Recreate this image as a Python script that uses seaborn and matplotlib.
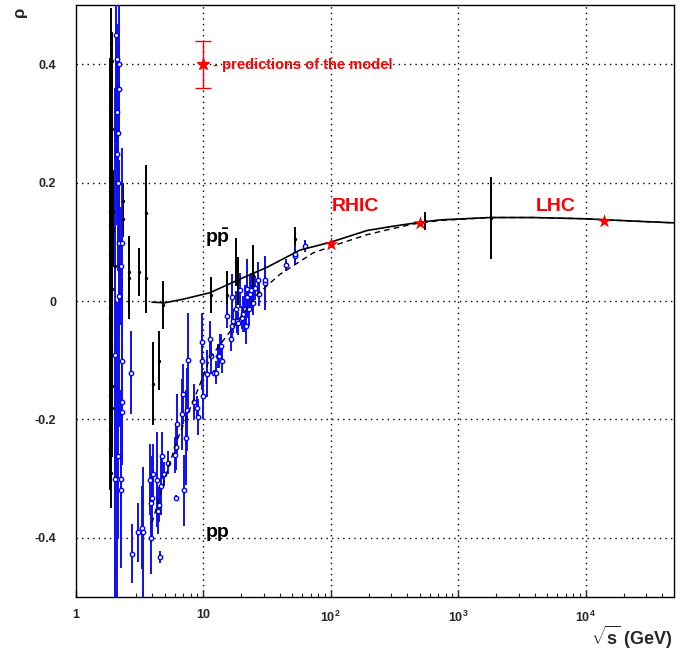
import numpy as np
import pandas as pd
import matplotlib
matplotlib.use("Agg")
import matplotlib.pyplot as plt
import seaborn as sns

# ---------------- data ----------------
# proton-antiproton measurements: sqrt(s) [GeV], rho, error
ppbar_sqrt_s = [1.90, 1.93, 1.88, 1.92, 1.90, 1.95, 1.88, 1.92, 1.97, 1.86,
                1.90, 1.95, 1.88, 1.92, 1.87, 1.91, 1.89, 1.93, 1.88, 1.90,
                1.86, 1.95, 1.97, 1.89, 1.91, 1.87, 1.89, 1.88, 1.90, 1.86,
                1.88, 1.89, 1.87, 1.90, 1.88,
                2.36, 2.36, 2.04, 2.64, 2.64,
                3.15, 3.57, 3.57, 4.07, 4.54, 4.88, 11.5, 15.3, 18.2, 18.9,
                24.5, 52.7, 546.0, 1800.0]
ppbar_rho = [0.435, 0.405, 0.330, 0.290, 0.255, 0.220, 0.185, 0.170, 0.150, 0.100,
             0.093, 0.060, 0.040, 0.020, -0.030, -0.055, -0.118, -0.143, -0.220, -0.290,
             -0.250, -0.180, 0.120, -0.080, 0.000, 0.130, 0.070, -0.010, -0.200, -0.160,
             0.080, -0.100, 0.150, 0.030, -0.250,
             0.169, 0.138, 0.059, 0.049, 0.039,
             0.049, 0.149, 0.039, -0.140, -0.101, -0.007, 0.010, 0.010, 0.066, 0.034,
             0.044, 0.105, 0.135, 0.140]
ppbar_err = [0.06, 0.05, 0.08, 0.10, 0.09, 0.08, 0.12, 0.10, 0.07, 0.10,
             0.12, 0.12, 0.15, 0.12, 0.14, 0.16, 0.14, 0.12, 0.10, 0.06,
             0.05, 0.08, 0.06, 0.15, 0.18, 0.08, 0.12, 0.15, 0.10, 0.12,
             0.10, 0.15, 0.05, 0.20, 0.05,
             0.03, 0.03, 0.03, 0.06, 0.07,
             0.04, 0.08, 0.06, 0.07, 0.05, 0.04, 0.03, 0.04, 0.04, 0.04,
             0.05, 0.02, 0.015, 0.069]

# proton-proton measurements: sqrt(s) [GeV], rho, error
pp_sqrt_s = [2.10, 2.19, 2.20, 2.10, 2.17, 2.12, 2.17, 2.20, 2.30, 2.28,
             2.20, 2.04, 2.06, 2.13, 2.33, 2.71, 2.33, 2.30, 2.17, 2.04,
             2.28, 2.28, 2.76, 3.11, 3.34, 3.38, 3.89, 3.89, 4.00, 3.84,
             4.07, 4.33, 4.41, 4.54, 4.60, 4.66, 4.74, 4.92, 5.35, 6.03,
             6.11, 6.14, 6.29, 6.81, 6.93, 7.13, 7.32, 7.45, 7.67, 8.50,
             8.93, 9.09, 9.77, 9.77, 10.05, 10.8, 11.35, 11.5, 12.2, 12.6,
             13.2, 13.4, 13.6, 13.8, 14.0, 15.3, 16.5, 16.8, 16.9, 17.3,
             18.2, 18.6, 18.9, 19.5, 20.1, 20.7, 21.3, 21.7, 22.3, 22.3,
             22.8, 23.4, 23.9, 24.5, 25.6, 27.2, 27.5, 30.6, 30.6, 44.8,
             52.7, 52.7, 63.1]
pp_rho = [0.408, 0.400, 0.358, 0.319, 0.283, 0.248, 0.200, 0.098, 0.098, 0.059,
          0.008, -0.091, 0.450, -0.301, -0.101, -0.121, -0.171, -0.187, -0.262, -0.301,
          -0.301, -0.320, -0.427, -0.391, -0.383, -0.391, -0.401, -0.341, -0.332, -0.302,
          -0.292, -0.302, -0.354, -0.344, -0.432, -0.312, -0.261, -0.292, -0.273, -0.260,
          -0.246, -0.332, -0.207, -0.191, -0.157, -0.320, -0.231, -0.184, -0.100, -0.170,
          -0.180, -0.196, -0.070, -0.101, -0.160, -0.123, -0.064, -0.093, -0.121, -0.121,
          -0.093, -0.093, -0.076, -0.076, -0.101, -0.025, -0.064, -0.042, 0.006, -0.034,
          -0.013, -0.034, -0.038, 0.018, -0.028, -0.022, -0.013, -0.042, 0.021, 0.006,
          -0.013, 0.012, 0.018, -0.003, 0.022, 0.036, 0.011, 0.030, 0.036, 0.061,
          0.076, 0.080, 0.093]
pp_err = [0.06, 0.12, 0.08, 0.10, 0.13, 0.12, 0.15, 0.14, 0.16, 0.10,
          0.22, 0.45, 0.20, 0.30, 0.14, 0.07, 0.10, 0.09, 0.14, 0.30,
          0.15, 0.12, 0.05, 0.05, 0.07, 0.11, 0.06, 0.05, 0.07, 0.06,
          0.05, 0.08, 0.04, 0.03, 0.01, 0.05, 0.04, 0.02, 0.02, 0.03,
          0.04, 0.005, 0.05, 0.06, 0.05, 0.06, 0.08, 0.07, 0.08, 0.03,
          0.02, 0.03, 0.05, 0.05, 0.04, 0.04, 0.03, 0.03, 0.005, 0.02,
          0.02, 0.02, 0.02, 0.02, 0.02, 0.02, 0.02, 0.02, 0.04, 0.02,
          0.03, 0.02, 0.02, 0.03, 0.02, 0.03, 0.04, 0.03, 0.05, 0.03,
          0.03, 0.03, 0.03, 0.02, 0.02, 0.03, 0.02, 0.045, 0.04, 0.01,
          0.015, 0.015, 0.01]

# model curves
curve_ppbar_sqrt_s = [3.98, 5.03, 6.97, 11.35, 19.5, 31.8, 57.6, 99.0, 193.0,
                      303.0, 504.0, 722.0, 1780.0, 3870.0, 9550.0, 23600.0, 49400.0]
curve_ppbar_rho = [-0.002, -0.003, 0.003, 0.014, 0.037, 0.057, 0.086, 0.099, 0.119,
                   0.126, 0.133, 0.137, 0.141, 0.141, 0.139, 0.135, 0.132]
curve_pp_sqrt_s = [3.98, 5.03, 6.24, 9.5, 11.35, 17.2, 26.6, 40.1, 72.7, 104.0,
                   193.0, 303.0, 445.0, 722.0, 1780.0, 3870.0, 9550.0, 23600.0, 49400.0]
curve_pp_rho = [-0.375, -0.300, -0.236, -0.140, -0.096, -0.045, 0.011, 0.045, 0.081,
                0.093, 0.112, 0.122, 0.130, 0.136, 0.141, 0.141, 0.139, 0.135, 0.132]

# model predictions (RHIC, LHC)
pred_sqrt_s = [100.0, 500.0, 14000.0]
pred_rho = [0.097, 0.131, 0.135]

# ---------------- style ----------------
sns.set_theme(style="white")
plt.rcParams["font.family"] = ["Liberation Sans", "DejaVu Sans"]
plt.rcParams["font.weight"] = "bold"
plt.rcParams["mathtext.fontset"] = "custom"
plt.rcParams["mathtext.rm"] = "Liberation Sans:bold"
plt.rcParams["mathtext.bf"] = "Liberation Sans:bold"
plt.rcParams["mathtext.it"] = "Liberation Sans:bold"

fig = plt.figure(figsize=(6.99, 6.5), dpi=100)
ax = fig.add_axes([75.5 / 699, 1 - 597 / 650, 598.5 / 699, 592 / 650])

ax.set_xscale("log")
ax.set_xlim(1, 49400)
ax.set_ylim(-0.5, 0.5)

# grid
grid_kw = dict(color="black", linestyle=(0, (1, 3)), linewidth=1.0, zorder=0)
for gx in [10, 100, 1000, 10000]:
    ax.axvline(gx, **grid_kw)
for gy in [-0.4, -0.2, 0.0, 0.2, 0.4]:
    ax.axhline(gy, **grid_kw)

df_pp = pd.DataFrame({"sqrt_s": pp_sqrt_s, "rho": pp_rho, "err": pp_err})
df_ppbar = pd.DataFrame({"sqrt_s": ppbar_sqrt_s, "rho": ppbar_rho, "err": ppbar_err})

# error bars
ax.errorbar(df_ppbar["sqrt_s"], df_ppbar["rho"], yerr=df_ppbar["err"], fmt="none",
            ecolor="black", elinewidth=1.4, capsize=0, zorder=2)
ax.errorbar(df_pp["sqrt_s"], df_pp["rho"], yerr=df_pp["err"], fmt="none",
            ecolor="#1010f0", elinewidth=1.4, capsize=0, zorder=3)

# markers
sns.scatterplot(data=df_ppbar, x="sqrt_s", y="rho", ax=ax, color="black",
                marker="o", s=6, linewidth=0, zorder=4, legend=False)
ax.scatter(df_pp["sqrt_s"], df_pp["rho"], s=10, facecolors="white",
           edgecolors="#0000ff", linewidths=1.0, zorder=5)

# model curves
df_c1 = pd.DataFrame({"sqrt_s": curve_ppbar_sqrt_s, "rho": curve_ppbar_rho})
df_c2 = pd.DataFrame({"sqrt_s": curve_pp_sqrt_s, "rho": curve_pp_rho})
sns.lineplot(data=df_c1, x="sqrt_s", y="rho", ax=ax, color="black", linewidth=1.2,
             sort=False, estimator=None, zorder=6)
sns.lineplot(data=df_c2, x="sqrt_s", y="rho", ax=ax, color="black", linewidth=1.0,
             sort=False, estimator=None, zorder=6, dashes=False)
ax.lines[-1].set_linestyle((0, (4, 3)))

# predictions
df_pred = pd.DataFrame({"sqrt_s": pred_sqrt_s, "rho": pred_rho})
sns.scatterplot(data=df_pred, x="sqrt_s", y="rho", ax=ax, color="red", marker="*",
                s=110, linewidth=0, zorder=7, legend=False)

# key for the predictions
ax.errorbar([10.0], [0.4], yerr=[0.04], fmt="*", color="red", markersize=9,
            elinewidth=1.0, capsize=6, capthick=1.0, zorder=7)
ax.text(12.0, 0.398, "- predictions of the model", color="red", fontsize=10.5,
        fontweight="bold", va="center", ha="left", zorder=8)

# annotations
ax.text(12.9, 0.106, r"p$\bar{\rm p}$", fontsize=14, fontweight="bold", ha="center",
        va="center", color="black")
ax.text(12.9, -0.391, "pp", fontsize=14, fontweight="bold", ha="center", va="center",
        color="black")
ax.text(158, 0.16, "RHIC", fontsize=14, fontweight="bold", ha="center", va="center",
        color="red")
ax.text(5870, 0.16, "LHC", fontsize=14, fontweight="bold", ha="center", va="center",
        color="red")

# axes / ticks
ax.set_xticks([1, 10, 100, 1000, 10000])
ax.set_xticklabels(["1", "10", r"$10^{2}$", r"$10^{3}$", r"$10^{4}$"])
ax.set_yticks([-0.4, -0.2, 0.0, 0.2, 0.4])
ax.set_yticklabels(["-0.4", "-0.2", "0", "0.2", "0.4"])
ax.tick_params(axis="x", which="major", direction="in", length=5, width=1,
               labelsize=9, pad=9, bottom=True, top=False)
ax.tick_params(axis="x", which="minor", direction="in", length=3, width=0.8,
               bottom=True, top=False)
ax.tick_params(axis="y", which="major", direction="in", length=0, labelsize=9, pad=14,
               left=True, right=False)
for lab in ax.get_xticklabels() + ax.get_yticklabels():
    lab.set_fontweight("bold")
for sp in ax.spines.values():
    sp.set_color("black")
    sp.set_linewidth(1.0)

ax.set_xlabel("")
ax.set_ylabel("")
fig.text(673 / 699, 1 - 637 / 650, r"$\sqrt{\rm s}$ (GeV)", fontsize=13,
         fontweight="bold", ha="right", va="center")
fig.text(20 / 699, 1 - 12 / 650, "ρ", fontsize=12, rotation=90, ha="center",
         va="center")

fig.savefig("out.png", dpi=100)
